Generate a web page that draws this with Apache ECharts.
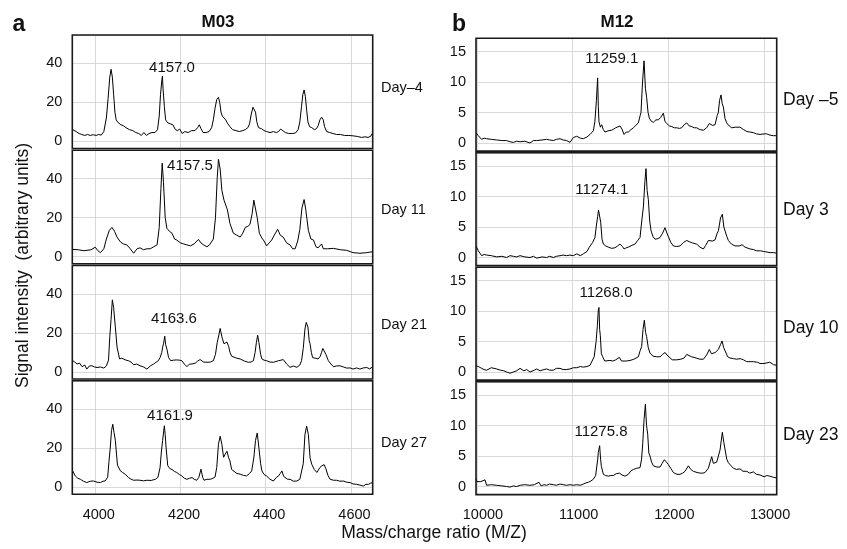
<!DOCTYPE html>
<html>
<head>
<meta charset="utf-8">
<script src="https://cdn.jsdelivr.net/npm/echarts@6/dist/echarts.min.js"></script>
<style>
html,body{margin:0;padding:0;background:#fff;}
#chart{width:847px;height:549px;}
</style>
</head>
<body>
<div id="chart"></div>
<script>
// ---------- Data (m/z, signal intensity) ----------
const m03_dayMinus4 = [[3947,6],[3955,5],[3962,4],[3968,3.5],[3975,3],[3982,3.5],[3988,3],[3995,3.4],[4002,3],[4008,3.5],[4014,3.2],[4020,5],[4026,12],[4030,22],[4034,33],[4037,37],[4040,33],[4043,24],[4046,15],[4049,11],[4054,9.5],[4060,8.5],[4066,8],[4072,7],[4080,6],[4088,5.5],[4095,4.5],[4102,4],[4108,3],[4114,4.5],[4120,3],[4126,4],[4133,4.5],[4140,4.5],[4146,6],[4150,13],[4153,24],[4156,31],[4157.5,33.5],[4159,27],[4162,18],[4165,11],[4170,9.5],[4176,9],[4182,8.5],[4188,6],[4193,5.5],[4198,6.3],[4204,4],[4210,5],[4218,4.5],[4226,5.5],[4234,5.5],[4240,7],[4244,8.5],[4248,6.5],[4253,4.5],[4260,4.5],[4267,5],[4273,7],[4277,11],[4281,17],[4285,21.5],[4289,22.6],[4292,20],[4295,15],[4298,13],[4302,12.8],[4306,11],[4311,9],[4316,7.5],[4322,6],[4330,5.5],[4338,5],[4346,5.5],[4352,6],[4358,7],[4362,9],[4366,14],[4370,17.5],[4373,18.4],[4376,15],[4379,10],[4383,7],[4390,6.5],[4396,5.5],[4402,5],[4410,4.5],[4418,5],[4425,4.5],[4430,5],[4435,6.3],[4440,5.5],[4446,4.5],[4454,4],[4462,4],[4470,4.3],[4476,6],[4480,10],[4484,18],[4487,24],[4490,26.4],[4493,23],[4496,16],[4499,10],[4503,7.5],[4508,7],[4514,6],[4519,6.5],[4523,8],[4527,11],[4531,12.4],[4535,11],[4538,7.5],[4543,5],[4550,4.5],[4558,4],[4566,3.5],[4575,3.5],[4585,3],[4595,3],[4605,2.8],[4615,2.5],[4625,2],[4633,2.3],[4640,2],[4646,2.5],[4651,4.3]];

const m03_day11 = [[3947,3.7],[3960,3.5],[3973,3],[3990,3.5],[4000,4.8],[4006,3],[4012,2],[4020,4],[4026,9],[4033,13.5],[4039,15],[4045,13],[4051,10],[4059,7.5],[4066,6.5],[4074,6],[4082,4],[4090,1.7],[4098,4],[4105,4.5],[4113,3.5],[4121,4],[4129,4],[4137,5],[4145,6],[4150,15],[4154,35],[4157,48],[4160,38],[4164,20],[4168,14.5],[4174,13],[4180,12],[4186,9],[4191,8.5],[4200,7],[4207,6.5],[4215,6],[4223,5.5],[4232,6.5],[4242,8.8],[4248,7],[4254,6],[4262,5],[4268,6],[4277,9],[4282,20],[4286,40],[4289,50],[4293,45],[4297,34],[4302,29],[4306,28],[4310,24],[4316,17],[4324,12],[4332,11],[4340,10],[4346,12],[4352,15],[4358,15.5],[4363,16.5],[4368,22],[4372,29],[4376,28],[4380,20],[4385,12],[4391,9.5],[4396,8],[4402,5.5],[4408,7],[4414,8.5],[4420,11],[4428,14],[4434,11],[4441,10],[4449,7],[4457,6],[4463,4],[4469,4],[4475,8],[4480,14],[4485,25],[4490,29.3],[4494,24],[4500,13.5],[4506,9],[4512,8.5],[4518,5],[4523,4.5],[4531,6.5],[4535,4],[4545,4],[4559,4.2],[4575,3.5],[4590,3.2],[4605,2],[4621,1.7],[4637,2],[4651,2.5]];

const m03_day21 = [[3947,5.7],[3952,5],[3957,4],[3963,4.5],[3969,2.6],[3975,3.5],[3980,1.4],[3986,3],[3992,3.1],[3998,2.5],[4004,2.2],[4012,2.5],[4020,1.9],[4026,3],[4031,6],[4034,18],[4037,27],[4040,37],[4043,33],[4047,23],[4051,12.7],[4057,6.6],[4062,7],[4066,7],[4072,6],[4078,5.7],[4084,5],[4090,3.6],[4097,4],[4105,3.1],[4113,2.5],[4121,1.4],[4129,3],[4137,4],[4143,5],[4148,5.7],[4152,7.3],[4156,10],[4158,12.7],[4160,14.4],[4163,18.3],[4165,14],[4168,11.7],[4172,7.3],[4177,5.7],[4184,6],[4191,6.1],[4197,6],[4203,5.7],[4209,4],[4215,2.6],[4221,4],[4227,4],[4235,4.5],[4240,5.5],[4246,6.3],[4254,5],[4262,4.9],[4270,5],[4277,5.7],[4282,9],[4286,15],[4290,19],[4293,22.3],[4297,18],[4302,14.4],[4306,14.5],[4309,15.3],[4313,13],[4316,10],[4320,8],[4324,8.5],[4332,7],[4340,6.6],[4350,5.5],[4359,4.9],[4365,5],[4371,5.7],[4375,10],[4378,15],[4381,18.8],[4384,15],[4388,9],[4391,6.6],[4396,6],[4402,5.7],[4410,5],[4418,4.9],[4424,5.3],[4430,5.7],[4436,6],[4441,6.3],[4449,4],[4457,2.3],[4465,3],[4473,2.3],[4480,3.5],[4484,5.7],[4488,12],[4492,22],[4495,25.4],[4499,23],[4502,16],[4504,14.4],[4507,10],[4510,7.3],[4516,7],[4523,6.6],[4528,8],[4531,10],[4534,12],[4537,12.7],[4541,9],[4547,5.7],[4553,4],[4559,2.6],[4566,3],[4574,3.1],[4582,2.5],[4590,1.9],[4598,2],[4605,1.4],[4613,2],[4621,1.4],[4629,2],[4637,2.2],[4644,1.5],[4651,2.6]];

const m03_day27 = [[3947,8.3],[3953,5.7],[3959,4.5],[3965,4],[3972,3],[3980,2.3],[3988,3],[3996,3.1],[4004,2.5],[4012,2.3],[4018,3],[4023,3.1],[4029,5],[4032,13],[4035,20],[4038,29],[4041,32.3],[4044,28],[4047,24],[4052,11.3],[4059,8.3],[4064,7.5],[4070,6.6],[4074,6],[4078,4.9],[4084,4],[4090,3.5],[4098,3.6],[4105,3.5],[4113,3.2],[4121,3.5],[4131,3.4],[4141,4],[4147,5],[4152,10],[4155,18],[4158,24],[4162,31.5],[4164,27],[4166,20.5],[4170,11],[4175,9.5],[4180,9],[4186,8],[4191,7.5],[4197,6.5],[4203,5.7],[4209,4.5],[4215,4],[4221,4.5],[4227,4.9],[4232,4],[4238,3.5],[4243,5],[4248,9.2],[4252,5],[4255,3.5],[4262,4],[4270,4],[4276,4.5],[4281,5.2],[4285,10],[4289,22],[4293,26.1],[4297,22],[4301,15.3],[4305,17],[4309,18.4],[4313,15],[4316,13.4],[4320,9],[4324,8.3],[4332,7],[4340,6.6],[4348,6],[4355,5.7],[4362,7],[4367,8.3],[4372,15],[4376,24],[4380,27.8],[4384,20],[4388,12],[4391,8.3],[4396,6.5],[4402,5.7],[4410,4],[4418,3.1],[4425,5],[4430,5.7],[4434,7],[4438,8.3],[4442,5.5],[4445,4.9],[4451,4],[4457,4],[4465,3],[4473,3.1],[4480,4],[4484,4.9],[4488,12],[4492,27],[4496,31.3],[4500,27],[4504,15],[4508,11.7],[4514,9],[4520,7.5],[4524,8],[4527,10],[4532,11],[4537,11.5],[4541,9.5],[4546,6],[4551,4],[4559,3.5],[4566,3.5],[4574,3],[4582,3.1],[4590,2.5],[4598,2.3],[4605,1.6],[4613,1.4],[4621,1],[4629,0.5],[4635,1.4],[4641,1.4],[4646,2],[4651,2.3]];

const m12_dayMinus5 = [[9990,1.7],[10014,1.2],[10049,0.6],[10075,0.8],[10101,0.7],[10150,0.6],[10206,0.5],[10260,0.4],[10310,0.4],[10345,0.2],[10380,0.1],[10415,0.3],[10450,0.2],[10500,0.3],[10554,0],[10590,0.4],[10624,0.4],[10680,0.5],[10728,0.6],[10760,0.5],[10798,0.4],[10830,0.6],[10868,0.7],[10900,0.5],[10937,0.4],[10972,0.1],[11007,0.9],[11042,1.1],[11080,0.8],[11111,0.7],[11150,1],[11181,1.4],[11216,2],[11232,3.5],[11248,7],[11261,10.7],[11268,6],[11275,3.5],[11290,2.6],[11303,3],[11320,2.2],[11338,1.8],[11370,2],[11408,2.1],[11450,2.5],[11495,2.8],[11515,2.3],[11537,1.4],[11560,1.8],[11582,1.8],[11610,2.2],[11634,2.5],[11660,2.9],[11686,3.3],[11705,4.5],[11714,5],[11730,10],[11746,13.5],[11760,9],[11773,7.5],[11788,5],[11801,4.1],[11820,3.6],[11843,3.4],[11870,3.8],[11895,3.8],[11920,4.2],[11935,4.5],[11948,4.9],[11965,3.5],[11982,3.3],[12010,2.8],[12035,2.7],[12060,2.5],[12087,2.5],[12115,2.4],[12139,2.5],[12165,3],[12192,3.3],[12218,2.8],[12244,2.7],[12270,2.5],[12296,2.5],[12330,2.2],[12366,2.1],[12400,2.5],[12428,3.2],[12460,2.9],[12488,3],[12510,4.5],[12522,5],[12535,7],[12550,7.9],[12562,6.5],[12575,5.9],[12592,4],[12610,3.3],[12636,2.8],[12662,2.5],[12700,2.6],[12749,2.6],[12785,2.2],[12819,1.9],[12850,1.8],[12888,1.7],[12920,1.5],[12958,1.4],[13000,1.5],[13028,1.5],[13060,1.3],[13097,1.2],[13132,1.2]];

const m12_day3 = [[9990,1.9],[10014,1.1],[10049,0.3],[10075,0.5],[10101,0.4],[10150,0.3],[10206,0.1],[10260,0.2],[10310,0],[10345,0.3],[10380,0.2],[10415,0.1],[10450,0.3],[10500,0.1],[10554,0],[10590,0.2],[10624,-0.1],[10680,0.1],[10728,0],[10760,0.2],[10798,0],[10830,0.2],[10868,0.3],[10900,0.4],[10937,0.3],[10972,0.4],[11007,0.3],[11042,0.6],[11080,0.3],[11111,0.6],[11150,1],[11174,1.7],[11210,2.5],[11233,3.3],[11250,5.5],[11261,6.7],[11270,7.8],[11279,7.8],[11293,5.8],[11307,3],[11321,2.2],[11345,1.9],[11373,1.7],[11408,1.5],[11442,1.6],[11470,1.9],[11495,2.2],[11520,1.8],[11537,1.4],[11560,1.6],[11582,1.7],[11620,2],[11651,2.2],[11680,2.8],[11704,3.3],[11722,6],[11739,8.3],[11755,12.5],[11766,14.6],[11778,11],[11791,9.5],[11805,6],[11819,4.4],[11840,3.4],[11861,3],[11890,3.1],[11913,3.3],[11940,4],[11965,4.9],[11985,4],[12000,3.9],[12025,2.5],[12052,1.9],[12087,1.8],[12122,1.9],[12160,2.5],[12192,2.8],[12218,2.6],[12250,2.4],[12270,2.3],[12296,2.2],[12330,1.7],[12366,1.4],[12390,2],[12418,2.8],[12460,2.7],[12488,2.9],[12510,4],[12523,4.4],[12545,6.5],[12564,7.1],[12580,5],[12592,5],[12610,3.5],[12627,2.8],[12660,2.2],[12697,1.9],[12740,1.9],[12770,2.1],[12801,1.7],[12854,1.4],[12890,1.3],[12923,1.1],[12960,1.1],[12993,1],[13030,0.9],[13063,0.8],[13100,0.8],[13132,0.7]];

const m12_day10 = [[9990,1],[10014,0.9],[10049,0.6],[10075,0.4],[10101,0.3],[10150,0.7],[10206,0.5],[10245,0.3],[10280,0.2],[10310,0],[10345,-0.2],[10380,0],[10415,0.2],[10450,0.6],[10490,0.2],[10520,0.4],[10554,0],[10600,0.3],[10624,0.5],[10660,0.2],[10700,0.4],[10728,0.5],[10760,0.3],[10798,0.3],[10830,0.6],[10868,0.6],[10900,0.4],[10937,0.4],[10972,0.5],[11007,0.7],[11042,0.7],[11080,0.9],[11111,0.8],[11150,0.9],[11181,1.1],[11199,1.3],[11225,2.5],[11245,5],[11258,7.6],[11268,10.2],[11275,10.6],[11282,7],[11289,6],[11300,3],[11314,2.5],[11335,1.8],[11355,1.7],[11390,1.9],[11420,1.8],[11450,2],[11470,2.2],[11488,2.4],[11510,1.8],[11530,1.5],[11560,1.8],[11599,1.9],[11640,2.1],[11686,2.5],[11705,3.5],[11721,4.2],[11735,7],[11749,8.5],[11762,6.5],[11773,5.8],[11790,4],[11808,3.1],[11840,2.6],[11880,2.5],[11913,2.5],[11940,2.9],[11965,3.2],[11985,2.8],[12000,2.5],[12040,2],[12087,2],[12130,2.1],[12165,2.3],[12192,2.9],[12215,2.7],[12244,2.5],[12290,2.3],[12330,2.1],[12366,2.1],[12400,2.8],[12428,3.7],[12450,3],[12470,2.8],[12490,3.2],[12522,3.7],[12545,4.5],[12561,5.1],[12578,4],[12592,3.7],[12620,2.5],[12644,2.3],[12680,2.2],[12714,2.1],[12750,2.2],[12785,2],[12819,1.7],[12860,1.7],[12888,1.7],[12930,1.6],[12958,1.4],[13000,1.4],[13030,1.5],[13060,1.6],[13100,1.2],[13132,1.1]];

const m12_day23 = [[9990,1.3],[10000,0.8],[10014,0.5],[10040,0.8],[10060,0.9],[10084,1.1],[10101,0.2],[10150,0.3],[10206,0.2],[10260,0.1],[10310,0],[10345,-0.1],[10380,0.1],[10415,0],[10450,0.2],[10500,0.3],[10554,0.2],[10600,0.3],[10648,0.7],[10670,0.1],[10700,0.3],[10728,0.2],[10760,0.4],[10798,0.3],[10830,0.2],[10868,0.4],[10900,0.3],[10937,0.2],[10972,0.3],[11007,0.2],[11042,0.3],[11080,0.2],[11111,0.4],[11140,0.6],[11164,0.7],[11190,0.9],[11216,1.2],[11240,1.8],[11251,2],[11262,4.5],[11268,5.6],[11282,6.7],[11292,4.5],[11300,3.3],[11321,2],[11345,1.8],[11373,1.7],[11400,1.8],[11425,1.8],[11455,2.1],[11488,2.2],[11515,1.9],[11547,1.7],[11565,2],[11582,2],[11610,2.6],[11634,2.8],[11670,3],[11704,3.1],[11720,4.5],[11732,7],[11746,11],[11760,13.5],[11772,10],[11784,8.6],[11796,5.5],[11808,5],[11825,4],[11843,3.4],[11880,3.2],[11913,3.2],[11935,3.8],[11958,4.4],[11980,4],[12000,3.6],[12025,3],[12052,2.3],[12090,2],[12122,2],[12150,2.2],[12174,2.5],[12209,3.4],[12235,2.8],[12261,2.5],[12300,2.3],[12331,2.2],[12360,2.2],[12383,2.3],[12418,3],[12440,4.2],[12453,4.9],[12470,3.8],[12488,3.6],[12505,4],[12522,3.9],[12540,6],[12564,8.9],[12580,7.2],[12592,7],[12610,4.5],[12627,3.9],[12650,3.5],[12680,3],[12710,2.8],[12749,2.9],[12780,2.5],[12819,2.5],[12850,2.2],[12888,2.4],[12920,2],[12958,1.9],[13000,1.6],[13028,1.8],[13060,1.7],[13100,1.5],[13132,1.4]];

const panelA_series = [m03_dayMinus4, m03_day11, m03_day21, m03_day27];
const panelB_series = [m12_dayMinus5, m12_day3, m12_day10, m12_day23];
const panelA_days = ['Day\u20134', 'Day 11', 'Day 21', 'Day 27'];
const panelB_days = ['Day \u20135', 'Day 3', 'Day 10', 'Day 23'];
const panelA_peaks = ['4157.0', '4157.5', '4163.6', '4161.9'];
const panelB_peaks = ['11259.1', '11274.1', '11268.0', '11275.8'];
const panelA_xRange = [3946, 4651], panelA_xStep = 200;
const panelB_xRange = [9990, 13132], panelB_xStep = 1000;
const panelA_yRange = [-3.7, 54.65], panelA_yStep = 20;
const panelB_yRange = [-1.33, 17.2], panelB_yStep = 5;

// ---------- Layout ----------
const FONT = '"Liberation Sans", Arial, Helvetica, sans-serif';
const A = {left: 72.3, width: 300.4, top: 35, pitch: 115.25, height: 113.5};
const B = {left: 476, width: 300.7, top: 38.3, pitch: 114.5, height: 112.8};
const annA = [[172, 67.7], [190, 166], [174, 319.3], [170, 416]];
const annB = [[611.7, 59.3], [601.7, 190], [606, 293.3], [601, 431.7]];
const dayAy = [88, 210, 325, 443];
const dayBy = [100, 210, 328, 435];

function fmt(step) {
  return function (v) {
    const r = v / step;
    return Math.abs(r - Math.round(r)) < 1e-6 ? String(Math.round(v)) : '';
  };
}

const grids = [], xAxes = [], yAxes = [], series = [], graphics = [];

function addPanel(P, dataList, xr, xs, yr, ys, xPad) {
  dataList.forEach(function (d, i) {
    const gi = grids.length;
    const top = P.top + i * P.pitch;
    grids.push({
      left: P.left, width: P.width, top: top, height: P.height,
      show: false, containLabel: false, outerBoundsMode: 'none'
    });
    graphics.push({
      type: 'rect', z: 20, silent: true,
      shape: {x: P.left, y: top, width: P.width, height: P.height},
      style: {fill: null, stroke: '#1a1a1a', lineWidth: 1.6}
    });
    xAxes.push({
      type: 'value', gridIndex: gi, min: xr[0], max: xr[1],
      minInterval: xs, maxInterval: xs,
      axisLine: {show: false}, axisTick: {show: false},
      splitLine: {show: true, lineStyle: {color: '#d9d9d9', width: 1}},
      axisLabel: {show: i === dataList.length - 1, formatter: fmt(xs), fontSize: 14.5,
                  fontFamily: FONT, color: '#111', margin: 13, padding: [0, 0, 0, xPad]}
    });
    yAxes.push({
      type: 'value', gridIndex: gi, min: yr[0], max: yr[1],
      minInterval: ys, maxInterval: ys,
      axisLine: {show: false}, axisTick: {show: false},
      splitLine: {show: true, lineStyle: {color: '#d9d9d9', width: 1}},
      axisLabel: {formatter: fmt(ys), fontSize: 14.5, fontFamily: FONT, color: '#111', margin: 10}
    });
    series.push({
      type: 'line', xAxisIndex: gi, yAxisIndex: gi, data: d,
      showSymbol: false, symbol: 'none', smooth: false,
      lineStyle: {color: '#000', width: 1}, z: 3, silent: true
    });
  });
}

addPanel(A, panelA_series, panelA_xRange, panelA_xStep, panelA_yRange, panelA_yStep, 7);
addPanel(B, panelB_series, panelB_xRange, panelB_xStep, panelB_yRange, panelB_yStep, 12);

function txt(text, x, y, size, opts) {
  opts = opts || {};
  return {
    type: 'text', x: x, y: y, rotation: opts.rotation || 0, z: 30,
    style: {text: text, x: 0, y: 0, fill: '#111',
            font: (opts.bold ? 'bold ' : '') + size + 'px ' + FONT,
            textAlign: opts.align || 'center', textVerticalAlign: 'middle'}
  };
}

graphics.push(txt('a', 19, 25, 23, {bold: true}));
graphics.push(txt('b', 459, 25, 23, {bold: true}));
graphics.push(txt('M03', 218, 22, 17, {bold: true}));
graphics.push(txt('M12', 617, 22, 17, {bold: true}));
panelA_days.forEach(function (t, i) { graphics.push(txt(t, 381, dayAy[i], 14.5, {align: 'left'})); });
panelB_days.forEach(function (t, i) { graphics.push(txt(t, 783, dayBy[i], 17.5, {align: 'left'})); });
panelA_peaks.forEach(function (t, i) { graphics.push(txt(t, annA[i][0], annA[i][1], 15)); });
panelB_peaks.forEach(function (t, i) { graphics.push(txt(t, annB[i][0], annB[i][1], 15)); });
graphics.push(txt('Mass/charge ratio (M/Z)', 434, 533, 17.5));
graphics.push(txt('Signal intensity  (arbitrary units)', 23, 265.5, 17.5, {rotation: Math.PI / 2}));

const chart = echarts.init(document.getElementById('chart'), null, {renderer: 'canvas'});
chart.setOption({
  animation: false,
  backgroundColor: '#fff',
  grid: grids, xAxis: xAxes, yAxis: yAxes, series: series,
  graphic: graphics
});
</script>
</body>
</html>
